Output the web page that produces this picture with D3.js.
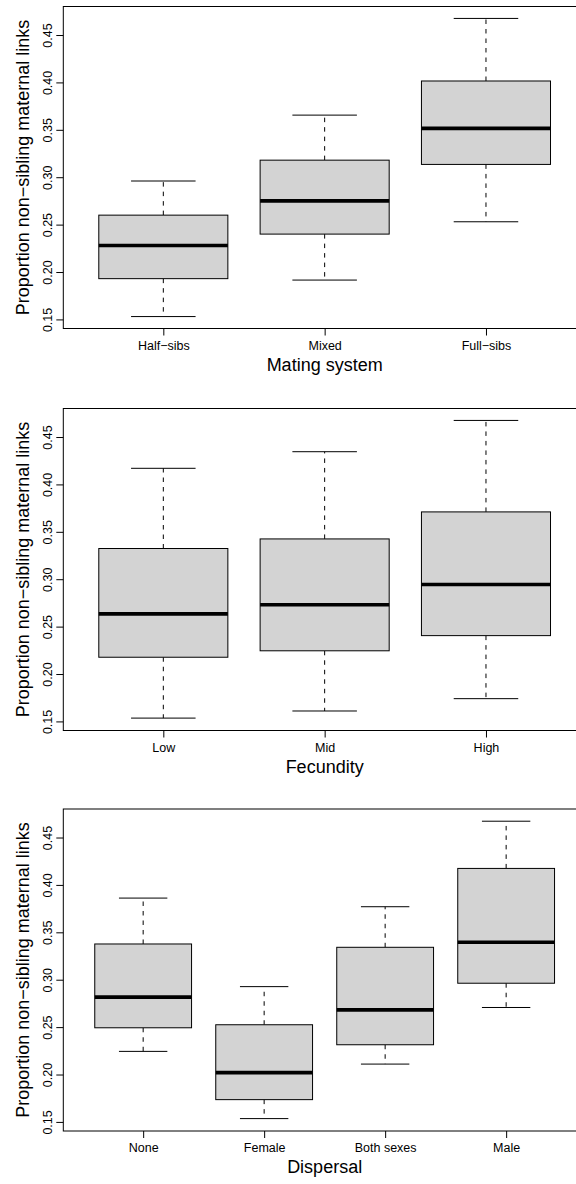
<!DOCTYPE html>
<html>
<head>
<meta charset="utf-8">
<script src="https://cdn.jsdelivr.net/npm/d3@7"></script>
<style>
  html, body { margin: 0; padding: 0; background: #fff; }
  svg { display: block; }
  text { font-family: "Liberation Sans", Arial, Helvetica, sans-serif; fill: #000; }
</style>
</head>
<body>
<svg id="chart" width="576" height="1184"></svg>
<script>
// Five-number summaries per group: [lower whisker, Q1, median, Q3, upper whisker]
const matingCategories = ["Half\u2212sibs", "Mixed", "Full\u2212sibs"];
const matingStats = [
  [0.153, 0.193, 0.228, 0.260, 0.296],
  [0.1915, 0.240, 0.275, 0.318, 0.3655],
  [0.253, 0.3135, 0.3515, 0.4015, 0.4675]
];

const fecundityCategories = ["Low", "Mid", "High"];
const fecundityStats = [
  [0.1535, 0.2177, 0.2634, 0.3324, 0.417],
  [0.161, 0.2245, 0.273, 0.3425, 0.4345],
  [0.174, 0.2405, 0.2945, 0.371, 0.4675]
];

const dispersalCategories = ["None", "Female", "Both sexes", "Male"];
const dispersalStats = [
  [0.2244, 0.2493, 0.2816, 0.3377, 0.3861],
  [0.1535, 0.1735, 0.202, 0.2525, 0.2927],
  [0.211, 0.2314, 0.2682, 0.3342, 0.377],
  [0.2707, 0.2963, 0.3395, 0.4174, 0.4672]
];

const yTicks = [0.15, 0.20, 0.25, 0.30, 0.35, 0.40, 0.45];
const yTitle = "Proportion non\u2212sibling maternal links";

const panels = [
  { title: "Mating system", categories: matingCategories, stats: matingStats, top: 6.5 },
  { title: "Fecundity", categories: fecundityCategories, stats: fecundityStats, top: 408.5 },
  { title: "Dispersal", categories: dispersalCategories, stats: dispersalStats, top: 809 }
];

const svg = d3.select("#chart");
const plotLeft = 63.3, plotRight = 586, plotHeight = 322;
const tickLen = 7;

// Shared y range: overall data extent padded by 4% on each side
const allVals = panels.flatMap(p => p.stats.flat());
const [vmin, vmax] = d3.extent(allVals);
const pad = (vmax - vmin) * 0.04;
const yDomain = [vmin - pad, vmax + pad];

panels.forEach(p => {
  const n = p.categories.length;
  const xPad = n * 0.04;
  const x = d3.scaleLinear().domain([0.5 - xPad, n + 0.5 + xPad]).range([plotLeft, plotRight]);
  const y = d3.scaleLinear().domain(yDomain).range([p.top + plotHeight, p.top]);
  const unit = x(2) - x(1);
  const boxHalf = 0.4 * unit, capHalf = 0.2 * unit;

  const g = svg.append("g");

  // boxes
  p.stats.forEach((s, i) => {
    const cx = x(i + 1);
    const [lo, q1, med, q3, hi] = s;
    const bg = g.append("g");
    // dashed whiskers
    bg.append("line").attr("x1", cx).attr("x2", cx).attr("y1", y(q3)).attr("y2", y(hi))
      .attr("stroke", "#000").attr("stroke-width", 1).attr("stroke-dasharray", "4.5,5");
    bg.append("line").attr("x1", cx).attr("x2", cx).attr("y1", y(q1)).attr("y2", y(lo))
      .attr("stroke", "#000").attr("stroke-width", 1).attr("stroke-dasharray", "4.5,5");
    // staples
    [lo, hi].forEach(v => {
      bg.append("line").attr("x1", cx - capHalf).attr("x2", cx + capHalf)
        .attr("y1", y(v)).attr("y2", y(v)).attr("stroke", "#000").attr("stroke-width", 1);
    });
    // box
    bg.append("rect").attr("x", cx - boxHalf).attr("width", 2 * boxHalf)
      .attr("y", y(q3)).attr("height", y(q1) - y(q3))
      .attr("fill", "#d3d3d3").attr("stroke", "#000").attr("stroke-width", 1);
    // median
    bg.append("line").attr("x1", cx - boxHalf).attr("x2", cx + boxHalf)
      .attr("y1", y(med)).attr("y2", y(med)).attr("stroke", "#000").attr("stroke-width", 3.6);
  });

  // frame
  g.append("rect").attr("x", plotLeft).attr("y", p.top)
    .attr("width", plotRight - plotLeft).attr("height", plotHeight)
    .attr("fill", "none").attr("stroke", "#000").attr("stroke-width", 1);

  // y axis
  const yAxis = d3.axisLeft(y).tickValues(yTicks).tickSize(tickLen).tickFormat(d3.format(".2f"));
  const ya = g.append("g").attr("transform", `translate(${plotLeft},0)`).call(yAxis);
  ya.select(".domain").remove();
  ya.selectAll(".tick line").attr("stroke", "#000");
  ya.selectAll(".tick text")
    .attr("x", null).attr("dy", null)
    .attr("transform", "translate(-11,0) rotate(-90)")
    .attr("text-anchor", "middle")
    .attr("font-size", 12.5)
    .attr("font-family", "Liberation Sans, Arial, sans-serif")
    .attr("fill", "#000");

  // x axis
  const xAxis = d3.axisBottom(x).tickValues(d3.range(1, n + 1)).tickSize(tickLen)
    .tickFormat(d => p.categories[d - 1]);
  const xa = g.append("g").attr("transform", `translate(0,${p.top + plotHeight})`).call(xAxis);
  xa.select(".domain").remove();
  xa.selectAll(".tick line").attr("stroke", "#000");
  xa.selectAll(".tick text")
    .attr("y", 21).attr("dy", null)
    .attr("font-size", 12.5)
    .attr("font-family", "Liberation Sans, Arial, sans-serif")
    .attr("fill", "#000");

  // axis titles
  g.append("text")
    .attr("x", (x.range()[0] + x.range()[1]) / 2)
    .attr("y", p.top + plotHeight + 42)
    .attr("text-anchor", "middle").attr("font-size", 18)
    .text(p.title);
  g.append("text")
    .attr("transform", `translate(29,${p.top + plotHeight / 2}) rotate(-90)`)
    .attr("text-anchor", "middle").attr("font-size", 18)
    .text(yTitle);
});
</script>
</body>
</html>
